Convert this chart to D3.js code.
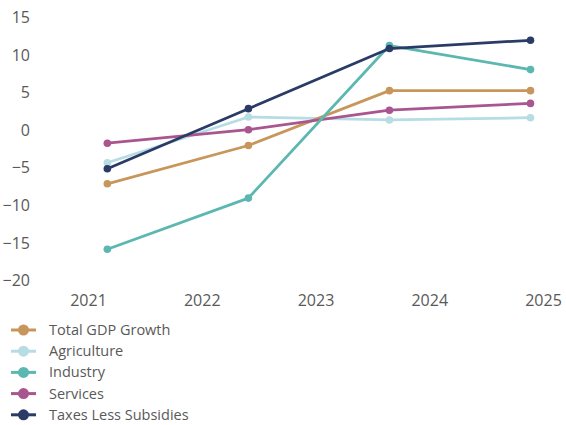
<!DOCTYPE html>
<html>
<head>
<meta charset="utf-8">
<script src="https://cdn.jsdelivr.net/npm/d3@7"></script>
<style>
  html, body { margin: 0; padding: 0; background: #fff; }
  text { font-family: "Open Sans", "Noto Sans", sans-serif; fill: #595959; }
</style>
</head>
<body>
<div id="chart"></div>
<script>
// positions of the points along the year axis
var periods = [2021.17, 2022.41, 2023.65, 2024.89];
var yearTicks = [2021, 2022, 2023, 2024, 2025];
var valueTicks = [15, 10, 5, 0, -5, -10, -15, -20];

var seriesNames = ["Total GDP Growth", "Agriculture", "Industry", "Services", "Taxes Less Subsidies"];
var seriesColors = ["#c8965a", "#b5dde3", "#5cb7b1", "#a9558f", "#2a3b66"];

var totalGdp = [-7.2, -2.1, 5.2, 5.2];
var agriculture = [-4.4, 1.7, 1.3, 1.6];
var industry = [-15.9, -9.1, 11.2, 8.0];
var services = [-1.8, 0.0, 2.6, 3.5];
var taxes = [-5.2, 2.8, 10.8, 11.9];

var seriesValues = [totalGdp, agriculture, industry, services, taxes];

var width = 566, height = 425;

var svg = d3.select("#chart")
  .append("svg")
  .attr("width", width)
  .attr("height", height);

var x = d3.scaleLinear().domain([2021, 2025]).range([88, 543]);
var y = d3.scaleLinear().domain([-20, 15]).range([280, 17]);

// y axis labels only, no line
var yAxis = svg.append("g")
  .attr("transform", "translate(30,0)")
  .call(d3.axisLeft(y).tickValues(valueTicks).tickSize(0).tickPadding(0));
yAxis.select(".domain").remove();
yAxis.selectAll("text")
  .style("font-size", "16px")
  .attr("text-anchor", "end")
  .attr("dy", "0.35em");

var xAxis = svg.append("g")
  .attr("transform", "translate(0,300)")
  .call(d3.axisBottom(x).tickValues(yearTicks).tickFormat(d3.format("d")).tickSize(0).tickPadding(0));
xAxis.select(".domain").remove();
xAxis.selectAll("text")
  .style("font-size", "16px")
  .attr("dy", "0.35em");

var line = d3.line()
  .x((d, i) => x(periods[i]))
  .y(d => y(d));

// draw order so navy sits above, teal above agriculture etc.
var drawOrder = [1, 0, 3, 2, 4];

drawOrder.forEach(function (k) {
  var g = svg.append("g");
  g.append("path")
    .attr("d", line(seriesValues[k]))
    .attr("fill", "none")
    .attr("stroke", seriesColors[k])
    .attr("stroke-width", 2.75)
    .attr("stroke-linejoin", "round");
  g.selectAll("circle")
    .data(seriesValues[k])
    .enter()
    .append("circle")
    .attr("cx", (d, i) => x(periods[i]))
    .attr("cy", d => y(d))
    .attr("r", 3.8)
    .attr("fill", seriesColors[k]);
});

// legend
var legend = svg.append("g").attr("transform", "translate(11,330)");
var rows = legend.selectAll("g")
  .data(seriesNames)
  .enter()
  .append("g")
  .attr("transform", (d, i) => "translate(0," + (i * 21.2) + ")");

rows.append("line")
  .attr("x1", 0).attr("x2", 25)
  .attr("stroke", (d, i) => seriesColors[i])
  .attr("stroke-width", 3);
rows.append("circle")
  .attr("cx", 12.5)
  .attr("r", 5.5)
  .attr("fill", (d, i) => seriesColors[i]);
rows.append("text")
  .attr("x", 38)
  .attr("dy", "0.35em")
  .style("font-size", "14.5px")
  .text(d => d);
</script>
</body>
</html>
